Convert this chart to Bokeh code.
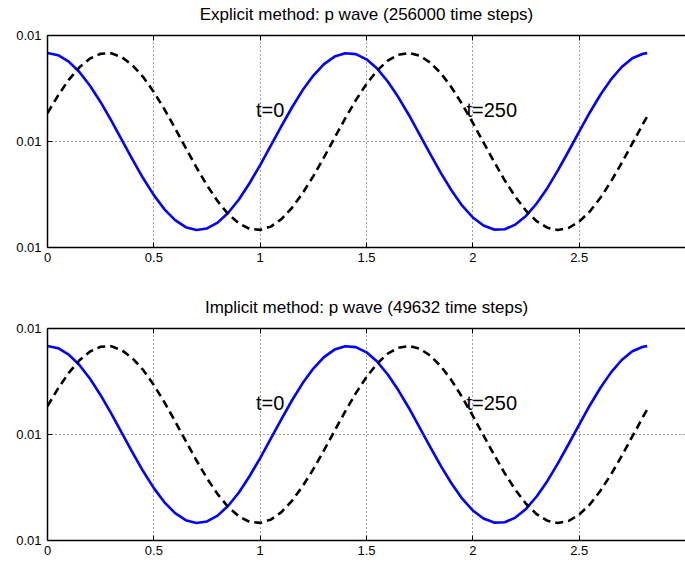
from bokeh.plotting import figure
from bokeh.layouts import column
from bokeh.models import (Range1d, FixedTicker, LinearAxis, PrintfTickFormatter, Label, Grid,
                          CustomJSTickFormatter)
from bokeh.embed import file_html
from bokeh.resources import INLINE

# ---- data ----
x = [0.00, 0.05, 0.10, 0.15, 0.20, 0.25, 0.30, 0.35, 0.40, 0.45,
     0.50, 0.55, 0.60, 0.65, 0.70, 0.75, 0.80, 0.85, 0.90, 0.95,
     1.00, 1.05, 1.10, 1.15, 1.20, 1.25, 1.30, 1.35, 1.40, 1.45,
     1.50, 1.55, 1.60, 1.65, 1.70, 1.75, 1.80, 1.85, 1.90, 1.95,
     2.00, 2.05, 2.10, 2.15, 2.20, 2.25, 2.30, 2.35, 2.40, 2.45,
     2.50, 2.55, 2.60, 2.65, 2.70, 2.75, 2.80, 2.82]

wave_t0 = [0.0100835, 0.0100814, 0.0100754, 0.0100656, 0.0100526, 0.0100371, 0.0100197, 0.0100013, 0.0099829, 0.0099653,
           0.0099494, 0.0099360, 0.0099258, 0.0099192, 0.0099165, 0.0099180, 0.0099235, 0.0099328, 0.0099453, 0.0099606,
           0.0099778, 0.0099960, 0.0100145, 0.0100323, 0.0100485, 0.0100622, 0.0100730, 0.0100801, 0.0100833, 0.0100824,
           0.0100775, 0.0100688, 0.0100566, 0.0100417, 0.0100248, 0.0100066, 0.0099881, 0.0099702, 0.0099538, 0.0099395,
           0.0099283, 0.0099207, 0.0099169, 0.0099172, 0.0099216, 0.0099298, 0.0099415, 0.0099560, 0.0099727, 0.0099908,
           0.0100093, 0.0100274, 0.0100441, 0.0100586, 0.0100703, 0.0100785, 0.0100828, 0.0100834]

wave_t250 = [0.0100268, 0.0100435, 0.0100582, 0.0100700, 0.0100783, 0.0100828, 0.0100832, 0.0100795, 0.0100719, 0.0100608,
             0.0100467, 0.0100303, 0.0100124, 0.0099939, 0.0099757, 0.0099587, 0.0099437, 0.0099315, 0.0099227, 0.0099176,
             0.0099166, 0.0099197, 0.0099268, 0.0099375, 0.0099513, 0.0099673, 0.0099850, 0.0100035, 0.0100218, 0.0100390,
             0.0100543, 0.0100669, 0.0100763, 0.0100819, 0.0100835, 0.0100810, 0.0100744, 0.0100643, 0.0100510, 0.0100352,
             0.0100176, 0.0099992, 0.0099808, 0.0099634, 0.0099478, 0.0099347, 0.0099248, 0.0099187, 0.0099165, 0.0099184,
             0.0099244, 0.0099340, 0.0099469, 0.0099624, 0.0099797, 0.0099982, 0.0100166, 0.0100235]

titles = ["Explicit method: p wave (256000 time steps)",
          "Implicit method: p wave (49632 time steps)"]
x_ticks = [0, 0.5, 1, 1.5, 2, 2.5]
y_ticks = [0.0099, 0.0100, 0.0101]
label_texts = ["t=0", "t=250"]
label_x = [0.98, 1.97]
label_y = [0.0100298, 0.0100298]

FONT = "Liberation Sans"


def make(title, height, border_bottom):
    p = figure(width=685, height=height, output_backend="svg", toolbar_location=None,
               x_range=Range1d(0, 3), y_range=Range1d(0.0099, 0.0101),
               x_axis_type=None, y_axis_type=None, title=title,
               min_border_left=47, min_border_right=0, min_border_top=35,
               min_border_bottom=border_bottom)
    p.outline_line_color = None
    p.background_fill_color = "white"
    p.border_fill_color = "white"
    p.title.align = "center"
    p.title.text_font = FONT
    p.title.text_font_size = "17px"
    p.title.text_font_style = "normal"
    p.title.text_color = "black"
    p.title.standoff = 4

    common = dict(major_tick_in=5, major_tick_out=0, minor_tick_in=0, minor_tick_out=0,
                  axis_line_width=1.5, axis_line_color="black",
                  major_tick_line_color="black", major_tick_line_width=1,
                  major_label_text_font=FONT, major_label_text_font_size="13px",
                  major_label_text_color="black")

    bottom = LinearAxis(ticker=FixedTicker(ticks=x_ticks),
                        formatter=PrintfTickFormatter(format="%g"),
                        major_label_standoff=5, **common)
    p.add_layout(bottom, "below")

    left = LinearAxis(ticker=FixedTicker(ticks=y_ticks),
                      formatter=PrintfTickFormatter(format="%.2f"),
                      major_label_standoff=6, **common)
    p.add_layout(left, "left")

    # top edge of the box, with inward ticks and no labels
    top = LinearAxis(ticker=FixedTicker(ticks=x_ticks),
                     formatter=CustomJSTickFormatter(code="return ''"),
                     major_label_standoff=0, **common)
    p.add_layout(top, "above")

    # invisible spacer between the box and the title
    spacer = LinearAxis(ticker=FixedTicker(ticks=x_ticks),
                        formatter=CustomJSTickFormatter(code="return ''"),
                        major_label_standoff=0, major_tick_in=0, major_tick_out=10,
                        minor_tick_in=0, minor_tick_out=0,
                        axis_line_color=None, major_tick_line_color=None,
                        minor_tick_line_color=None)
    p.add_layout(spacer, "above")

    gx = Grid(dimension=0, ticker=FixedTicker(ticks=x_ticks[1:]),
              grid_line_color="#444444", grid_line_dash="1 3", grid_line_width=1)
    gy = Grid(dimension=1, ticker=FixedTicker(ticks=[y_ticks[1]]),
              grid_line_color="#444444", grid_line_dash="1 3", grid_line_width=1)
    p.add_layout(gx)
    p.add_layout(gy)

    p.line(x, wave_t0, line_color="#0000ff", line_width=2.6, line_join="round")
    p.line(x, wave_t250, line_color="black", line_width=2.6, line_dash="8 5", line_join="round")

    for t, lx, ly in zip(label_texts, label_x, label_y):
        p.add_layout(Label(x=lx, y=ly, text=t, text_font=FONT, text_font_size="20px",
                           text_color="black", text_baseline="alphabetic", text_align="left"))
    return p


p1 = make(titles[0], 293, 46)
p2 = make(titles[1], 269, 22)
layout = column(p1, p2, spacing=0)

open("out.html", "w").write(file_html(layout, INLINE))
